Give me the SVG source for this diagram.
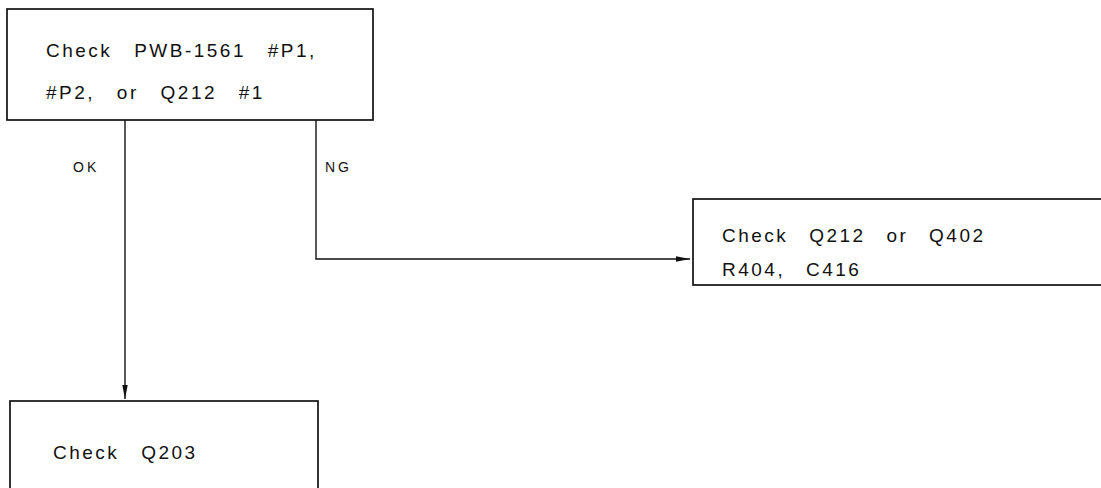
<svg xmlns="http://www.w3.org/2000/svg" width="1101" height="488" viewBox="0 0 1101 488">
<style>
.box{fill:#fff;stroke:#111;stroke-width:1.7}
.t{font-family:"Liberation Sans",Arial,sans-serif;font-size:19px;fill:#111;letter-spacing:2.5px}
.l{font-family:"Liberation Sans",Arial,sans-serif;font-size:14px;fill:#111;letter-spacing:3px}
.c{fill:none;stroke:#111;stroke-width:1.4}
</style>
<defs>
<marker id="ah" viewBox="0 0 14 6" refX="14" refY="3" markerWidth="14" markerHeight="6" markerUnits="userSpaceOnUse" orient="auto">
<path d="M0,0.3 L14,3 L0,5.7 z" fill="#111"/>
</marker>
</defs>
<rect width="1101" height="488" fill="#fff"/>
<g id="connectors">
<path class="c" d="M125,120 V399" marker-end="url(#ah)"/>
<path class="c" d="M316,120 V259 H690" marker-end="url(#ah)"/>
<text class="l" x="73" y="172">OK</text>
<text class="l" x="325" y="172">NG</text>
</g>
<g id="node-top">
<rect class="box" x="7" y="9" width="366" height="111"/>
<text class="t" x="46" y="57" style="word-spacing:14px">Check PWB-1561 #P1,</text>
<text class="t" x="46" y="99" style="word-spacing:14px">#P2, or Q212 #1</text>
</g>
<g id="node-ng">
<rect class="box" x="693" y="199" width="420" height="86"/>
<text class="t" x="722" y="242" style="word-spacing:13px">Check Q212 or Q402</text>
<text class="t" x="722" y="276" style="word-spacing:13px">R404, C416</text>
</g>
<g id="node-ok">
<rect class="box" x="10" y="401" width="308" height="100"/>
<text class="t" x="53" y="459" style="word-spacing:14px">Check Q203</text>
</g>
</svg>
